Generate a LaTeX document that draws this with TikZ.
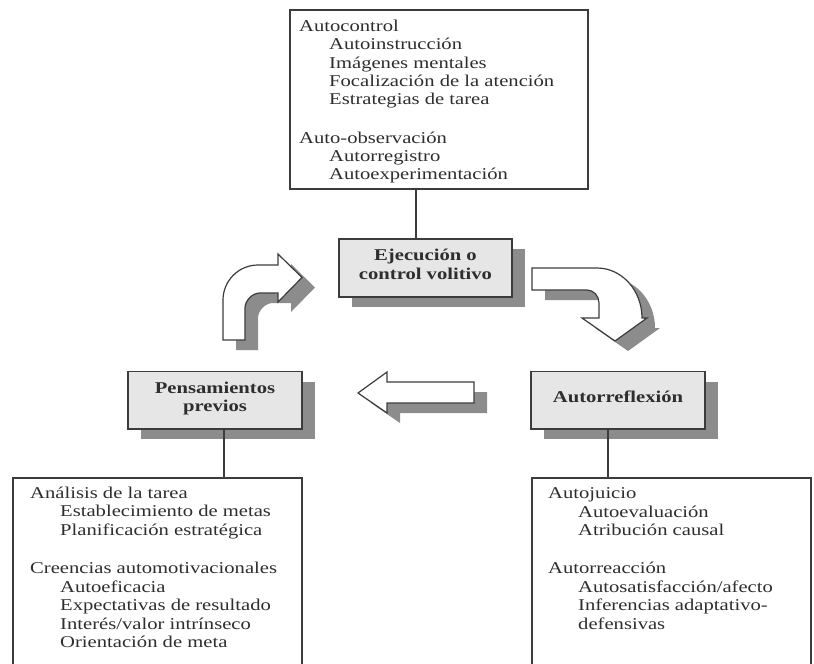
\documentclass[tikz,border=0pt]{standalone}
\usepackage{fontspec}
\setmainfont{Liberation Serif}[FakeStretch=1.25]
\usetikzlibrary{shadows}
\definecolor{bordc}{HTML}{3C3C3C}
\definecolor{boxfill}{HTML}{E6E6E6}
\definecolor{shadowc}{HTML}{8C8C8C}
\definecolor{txtc}{HTML}{2E2E2E}
\newcommand{\diagfont}{\fontsize{16.5pt}{18.3pt}\selectfont}
\tikzset{
  plainbox/.style={draw=bordc, line width=1.3pt, fill=white, inner sep=0pt, outer sep=0pt, anchor=north west},
  stagebox/.style={draw=bordc, line width=1.3pt, fill=boxfill, inner sep=0pt, outer sep=0pt, anchor=north west,
    drop shadow={shadow xshift=13pt, shadow yshift=-10pt, fill=shadowc, opacity=1}},
  itemtxt/.style={font=\diagfont, text=txtc, inner sep=0pt, anchor=base west},
  stagetxt/.style={font=\diagfont\bfseries, text=txtc, inner sep=0pt, anchor=base},
  bigarrow/.style={draw=bordc, line width=1.2pt, fill=white, line join=miter},
  arrowshadow/.style={fill=shadowc},
  link/.style={draw=bordc, line width=1.3pt}
}
\begin{document}
\begin{tikzpicture}[x=1pt, y=-1pt]
\useasboundingbox (0,0) rectangle (814,664);
\clip (0,0) rectangle (814,664);
\fill[white] (0,0) rectangle (814,664);

% content boxes
\node[plainbox, minimum width=298pt, minimum height=179pt] (topbox) at (290,10) {};
\node[plainbox, minimum width=289pt, minimum height=220pt] (bl) at (13,478) {};
\node[plainbox, minimum width=279pt, minimum height=220pt] (br) at (532,478) {};

% stage boxes
\node[stagebox, minimum width=173pt, minimum height=58pt] (ej) at (339,239) {};
\node[stagebox, minimum width=174pt, minimum height=57.5pt] (pens) at (128,371.5) {};
\node[stagebox, minimum width=174pt, minimum height=57.5pt] (auto) at (531,371.5) {};

% connectors
\coordinate (c1) at (416,0);
\coordinate (c2) at (224,0);
\coordinate (c3) at (608,0);
\draw[link] (topbox.south -| c1) -- (ej.north -| c1);
\draw[link] (pens.south -| c2) -- (bl.north -| c2);
\draw[link] (auto.south -| c3) -- (br.north -| c3);

% big arrows: shadows
\begin{scope}[shift={(13,10)}]
\fill[arrowshadow] (223,340) -- (223,300) .. controls (223,280.7) and (238.7,265) .. (258,265) -- (278,265) -- (278,254) -- (302,277.5) -- (278,302) -- (278,293) -- (260,293) .. controls (251.7,293) and (245,301.3) .. (245,308) -- (245,340) -- cycle;
\fill[arrowshadow] (532,268) -- (597,268) .. controls (621.8,268) and (642,290.4) .. (642,318) -- (647,318) -- (615,341) -- (582,318) -- (599,318) -- (599,303) .. controls (599,295.8) and (593.6,290) .. (587,290) -- (532,290) -- cycle;
\fill[arrowshadow] (358,393) -- (387,372) -- (387,382) -- (474,382) -- (474,403) -- (387,403) -- (387,413) -- cycle;
\end{scope}
% big arrows
\draw[bigarrow] (223,340) -- (223,300) .. controls (223,280.7) and (238.7,265) .. (258,265) -- (278,265) -- (278,254) -- (302,277.5) -- (278,302) -- (278,293) -- (260,293) .. controls (251.7,293) and (245,301.3) .. (245,308) -- (245,340) -- cycle;
\draw[bigarrow] (532,268) -- (597,268) .. controls (621.8,268) and (642,290.4) .. (642,318) -- (647,318) -- (615,341) -- (582,318) -- (599,318) -- (599,303) .. controls (599,295.8) and (593.6,290) .. (587,290) -- (532,290) -- cycle;
\draw[bigarrow] (358,393) -- (387,372) -- (387,382) -- (474,382) -- (474,403) -- (387,403) -- (387,413) -- cycle;

% stage labels
\node[stagetxt] (ejA) at (425.5,260.7) {Ejecución o};
\node[stagetxt] (ejB) at (425.5,279) {control volitivo};
\node[stagetxt] (pensA) at (215,393.3) {Pensamientos};
\node[stagetxt] (pensB) at (215,411.5) {previos};
\node[stagetxt] (autoA) at (618,402.3) {Autorreflexión};

% top box text
\node[itemtxt] (t1) at (299,31.5) {Autocontrol};
\node[itemtxt] (t2) at (329,49.8) {Autoinstrucción};
\node[itemtxt] (t3) at (329,68.1) {Imágenes mentales};
\node[itemtxt] (t4) at (329,86.4) {Focalización de la atención};
\node[itemtxt] (t5) at (329,104.7) {Estrategias de tarea};
\node[itemtxt] (t6) at (299,143.3) {Auto-observación};
\node[itemtxt] (t7) at (329,161.6) {Autorregistro};
\node[itemtxt] (t8) at (329,179.9) {Autoexperimentación};

% bottom left text
\node[itemtxt] (l1) at (30,498) {Análisis de la tarea};
\node[itemtxt] (l2) at (60,516.5) {Establecimiento de metas};
\node[itemtxt] (l3) at (60,535) {Planificación estratégica};
\node[itemtxt] (l4) at (30,573.5) {Creencias automotivacionales};
\node[itemtxt] (l5) at (60,592) {Autoeficacia};
\node[itemtxt] (l6) at (60,610.5) {Expectativas de resultado};
\node[itemtxt] (l7) at (60,629) {Interés/valor intrínseco};
\node[itemtxt] (l8) at (60,647.5) {Orientación de meta};

% bottom right text
\node[itemtxt] (r1) at (548,498.5) {Autojuicio};
\node[itemtxt] (r2) at (578,517) {Autoevaluación};
\node[itemtxt] (r3) at (578,535.5) {Atribución causal};
\node[itemtxt] (r4) at (548,573.5) {Autorreacción};
\node[itemtxt] (r5) at (578,592) {Autosatisfacción/afecto};
\node[itemtxt] (r6) at (578,610.5) {Inferencias adaptativo-};
\node[itemtxt] (r7) at (578,629) {defensivas};
\end{tikzpicture}
\end{document}
